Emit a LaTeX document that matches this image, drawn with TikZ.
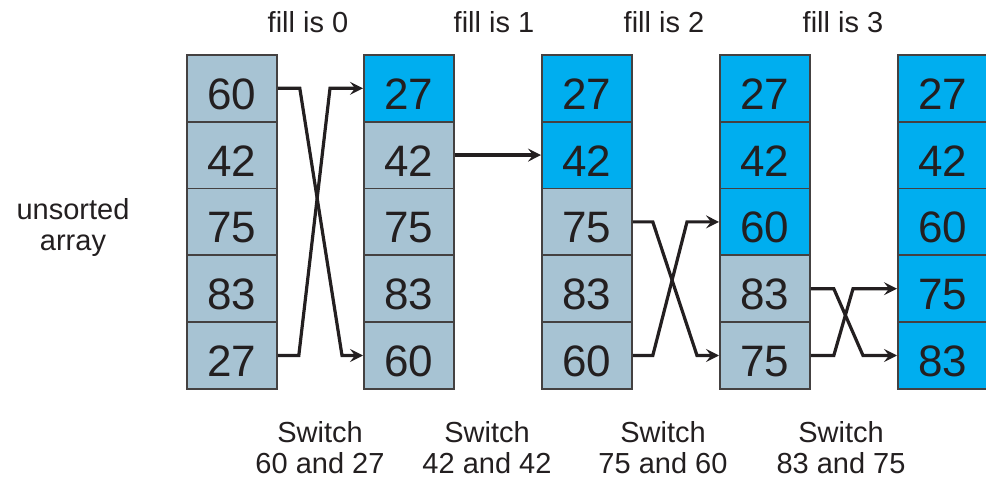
\documentclass[tikz,border=0pt]{standalone}
\usepackage{fontspec}
\setmainfont{Liberation Sans}
\usetikzlibrary{arrows.meta,calc}

\definecolor{unsortedcell}{HTML}{A7C3D3}
\definecolor{sortedcell}{HTML}{00AEEF}
\definecolor{inkdark}{HTML}{231F20}

\tikzset{
  x=1pt, y=-1pt,
  cell/.style={draw=inkdark!85, line width=1.8pt, minimum width=90pt,
    minimum height=66.8pt, inner sep=0pt, font=\fontsize{44}{44}\selectfont,
    text height=42pt, text depth=0pt,
    text=inkdark, anchor=north west},
  grey/.style={cell, fill=unsortedcell},
  blue/.style={cell, fill=sortedcell},
  swap/.style={draw=inkdark, line width=3.2pt, line join=miter,
    -{Stealth[length=13pt, width=13pt, inset=5pt]}},
  caption/.style={font=\fontsize{29}{31}\selectfont, text=inkdark, align=center}
}

\begin{document}
\begin{tikzpicture}
\useasboundingbox (0,0) rectangle (986,481);
\clip (0,0) rectangle (986,481);

% the five array snapshots: column x positions and per-row contents
\foreach \c/\x/\vals/\nsorted in {
    1/186/{60,42,75,83,27}/0,
    2/363/{27,42,75,83,60}/1,
    3/541/{27,42,75,83,60}/2,
    4/719/{27,42,60,83,75}/3,
    5/897/{27,42,60,75,83}/5}{
  \foreach \v [count=\r] in \vals {
    \ifnum\r>\nsorted
      \node[grey] (c\c\r) at (\x, {54+(\r-1)*66.8}) {\v};
    \else
      \node[blue] (c\c\r) at (\x, {54+(\r-1)*66.8}) {\v};
    \fi
  }
}

% fill-position headings
\node[caption] (f0) at (308,22) {fill is 0};
\node[caption] (f1) at (494,22) {fill is 1};
\node[caption] (f2) at (664,22) {fill is 2};
\node[caption] (f3) at (843,22) {fill is 3};

% swap descriptions
\node[caption] (s1) at (320,448) {Switch\\60 and 27};
\node[caption] (s2) at (487,448) {Switch\\42 and 42};
\node[caption] (s3) at (663,448) {Switch\\75 and 60};
\node[caption] (s4) at (841,448) {Switch\\83 and 75};

\node[caption] (lbl) at (73,228) {unsorted\\array};

% exchanges between consecutive snapshots
\draw[swap] (c11.east) -- ++(22,0) -- ($(c25.west)+(-21,0)$) -- (c25.west);
\draw[swap] (c15.east) -- ++(21,0) -- ($(c21.west)+(-33,0)$) -- (c21.west);

\draw[swap] (c22.east) -- (c32.west);

\draw[swap] (c33.east) -- ++(20,0) -- ($(c45.west)+(-22,0)$) -- (c45.west);
\draw[swap] (c35.east) -- ++(20,0) -- ($(c43.west)+(-32,0)$) -- (c43.west);

\draw[swap] (c44.east) -- ++(23,0) -- ($(c55.west)+(-34,0)$) -- (c55.west);
\draw[swap] (c45.east) -- ++(23,0) -- ($(c54.west)+(-44,0)$) -- (c54.west);
\end{tikzpicture}
\end{document}
